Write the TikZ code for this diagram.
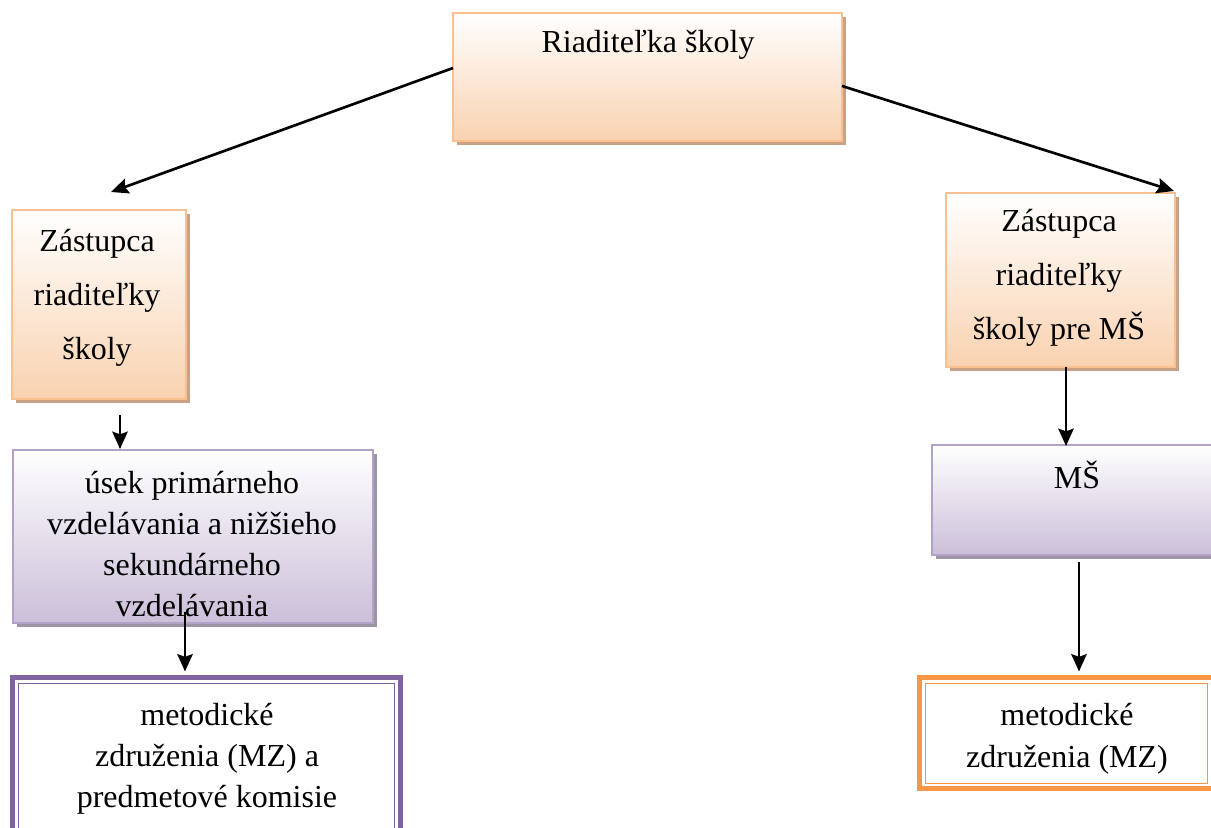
\documentclass[tikz,border=0pt]{standalone}
\usepackage{fontspec}
\setmainfont{Liberation Serif}
\usetikzlibrary{positioning,calc,shadows,arrows.meta}

\definecolor{peachline}{HTML}{FAC08F}
\definecolor{peachbot}{HTML}{F9D2B0}
\definecolor{peachshadow}{HTML}{C9A184}
\definecolor{lilacline}{HTML}{B3A2C7}
\definecolor{lilacbot}{HTML}{CBBFD9}
\definecolor{lilacshadow}{HTML}{9D95A6}
\definecolor{mzpurple}{HTML}{8064A2}
\definecolor{mzorange}{HTML}{F79646}

\tikzset{
  orangebox/.style={draw=peachline, line width=1.5pt, top color=white, bottom color=peachbot,
    inner sep=0pt, outer sep=0pt,
    drop shadow={shadow xshift=3pt, shadow yshift=-3pt, opacity=1, fill=peachshadow}},
  lilacbox/.style={draw=lilacline, line width=1.5pt, top color=white, bottom color=lilacbot,
    inner sep=0pt, outer sep=0pt,
    drop shadow={shadow xshift=3pt, shadow yshift=-3pt, opacity=1, fill=lilacshadow}},
  mzbox/.style={draw=#1, line width=3.5pt, fill=white, inner sep=0pt, outer sep=0pt},
  lbl/.style={align=center, inner sep=0pt, font=\fontsize{24}{#1}\selectfont},
  lbl/.default=30.75pt,
  conn/.style={->, draw=black, line width=2pt}
}

\begin{document}
\begin{tikzpicture}[%
x=0.75pt, y=-0.75pt,
>={Stealth[length=13pt,width=11.5pt,inset=2pt]}
]
\clip (0,0) rectangle (1211,828);

% boxes
\node[orangebox, minimum width=291.75pt, minimum height=96pt] (boss) at (647.5,77) {};
\node[orangebox, minimum width=130.5pt, minimum height=141.75pt] (zastL) at (99,304.5) {};
\node[orangebox, minimum width=171.75pt, minimum height=130.5pt] (zastR) at (1060.5,280) {};
\node[lilacbox, minimum width=270pt, minimum height=129.75pt] (usek) at (193,536.5) {};
\node[lilacbox, minimum width=217.5pt, minimum height=82.5pt] (ms) at (1077,500) {};
\node[mzbox=mzpurple, minimum width=291pt, minimum height=136.875pt] (mzL) at (206.5,768.75) {};
\node[mzbox=mzorange, minimum width=220.125pt, minimum height=83.25pt] (mzR) at (1066.25,733) {};

% inner lines of the double borders
\draw[mzpurple, line width=0.75pt] ($(mzL.north west)+(6,6)$) rectangle ($(mzL.south east)+(-6,-6)$);
\draw[mzorange, line width=0.75pt] ($(mzR.north west)+(5.5,5.5)$) rectangle ($(mzR.south east)+(-5.5,-5.5)$);

% texts
\node[lbl] (bossT) at (648,45) {Riaditeľka školy};
\node[lbl=40.5pt] (zastLT) at (97,298) {Zástupca\\riaditeľky\\školy};
\node[lbl=40.5pt] (zastRT) at (1059,278) {Zástupca\\riaditeľky\\školy pre MŠ};
\node[lbl] (usekT) at (192,544) {úsek primárneho\\vzdelávania a nižšieho\\sekundárneho\\vzdelávania};
\node[lbl] (msT) at (1077,475) {MŠ};
\node[lbl] (mzLT) at (207,759) {metodické\\združenia (MZ) a\\predmetové komisie};
\node[lbl=31.5pt] (mzRT) at (1067,739) {metodické\\združenia (MZ)};

% connectors
\coordinate (tipL) at (111,192);
\coordinate (tipR) at (1174,191);
\draw[conn] ([yshift=6.75pt]boss.west) -- (tipL);
\draw[conn] ([yshift=-6.75pt]boss.east) -- (tipR);
\draw[conn] ($(zastL.south west)+(108,16)$) -- ($(usek.north west)+(107,-1)$);
\draw[conn] ($(usek.south west)+(172,-11)$) -- ($(mzL.north west)+(172.5,-6)$);
\draw[conn] ($(zastR.south west)+(120,0)$) -- ($(ms.north west)+(134,1)$);
\draw[conn] ($(ms.south west)+(147,7)$) -- ($(mzR.north west)+(159.5,-6)$);

\end{tikzpicture}
\end{document}
